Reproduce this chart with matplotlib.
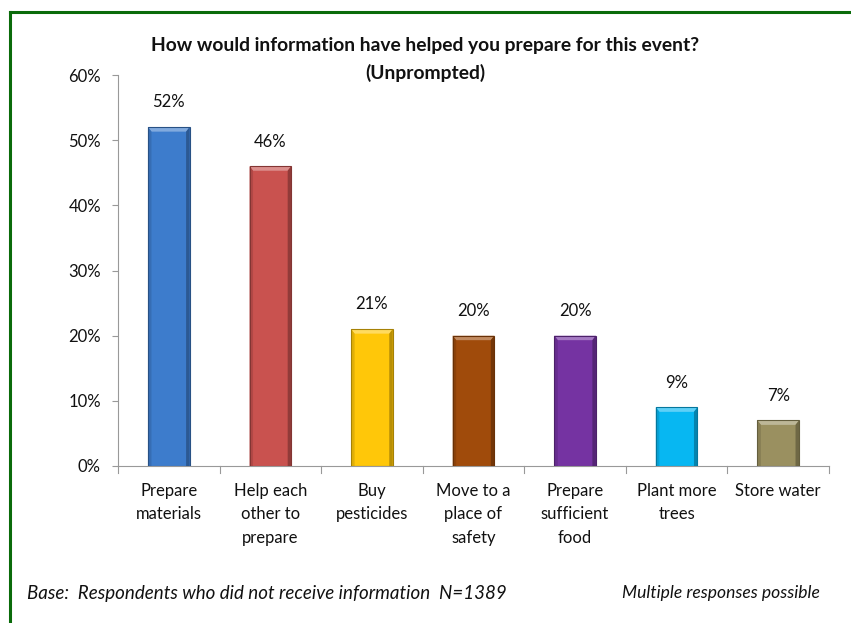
import matplotlib
matplotlib.use("Agg")
import matplotlib.pyplot as plt
from matplotlib.patches import Polygon
from matplotlib.lines import Line2D
import matplotlib.colors as mcolors
import numpy as np

categories = ["Prepare\nmaterials", "Help each\nother to\nprepare", "Buy\npesticides",
              "Move to a\nplace of\nsafety", "Prepare\nsufficient\nfood", "Plant more\ntrees",
              "Store water"]
values = [52, 46, 21, 20, 20, 9, 7]
bar_colors = ["#3d7ccc", "#c9524f", "#ffc709", "#a04b0b", "#7533a2", "#07b7f2", "#9a9060"]
y_ticks = [0, 10, 20, 30, 40, 50, 60]

FONT = "Lato"
W, H = 851, 623
fig = plt.figure(figsize=(W / 100, H / 100), dpi=100)
fig.patch.set_facecolor("white")

ax = fig.add_axes([118 / W, 1 - 466 / H, (829 - 118) / W, (466 - 75) / H])
x = np.arange(len(values))
bar_w = 0.41
bars = ax.bar(x, values, width=bar_w, color=bar_colors, zorder=2, linewidth=0)

ax.set_xlim(-0.5, len(values) - 0.5)
ax.set_ylim(0, 60)

# pixel -> data scale factors
px_x = (len(values)) / (829 - 118)
px_y = 60 / (466 - 75)


def shade(c, f):
    r, g, b = mcolors.to_rgb(c)
    if f >= 0:
        return (r + (1 - r) * f, g + (1 - g) * f, b + (1 - b) * f)
    return (r * (1 + f), g * (1 + f), b * (1 + f))


# bevelled look on each bar
for rect, c in zip(bars, bar_colors):
    x0 = rect.get_x()
    x1 = x0 + rect.get_width()
    top = rect.get_height()
    dx = 3.5 * px_x
    dy = 4.5 * px_y
    # top highlight
    ax.add_patch(Polygon([(x0, top), (x1, top), (x1 - dx, top - dy), (x0 + dx, top - dy)],
                         closed=True, facecolor=shade(c, 0.35), edgecolor="none", zorder=3))
    # left and right darker sides
    ax.add_patch(Polygon([(x0, 0), (x0, top), (x0 + dx, top - dy), (x0 + dx, 0)],
                         closed=True, facecolor=shade(c, -0.12), edgecolor="none", zorder=3))
    ax.add_patch(Polygon([(x1, 0), (x1, top), (x1 - dx, top - dy), (x1 - dx, 0)],
                         closed=True, facecolor=shade(c, -0.28), edgecolor="none", zorder=3))
    # outline
    ax.add_patch(plt.Rectangle((x0, 0), x1 - x0, top, facecolor="none",
                               edgecolor=shade(c, -0.35), linewidth=0.8, zorder=4))
    ax.annotate(f"{top:.0f}%", (rect.get_x() + rect.get_width() / 2, top),
                xytext=(0, 12), textcoords="offset points", ha="center", va="bottom",
                fontsize=12, family=FONT, color="#111111")

ax.set_yticks(y_ticks)
ax.set_yticklabels([f"{t}%" for t in y_ticks], fontsize=12, family=FONT, color="#111111")
ax.set_xticks(x)
ax.set_xticklabels(categories, fontsize=12, family=FONT, color="#111111", linespacing=1.6)
ax.tick_params(axis="x", length=0, pad=12)
ax.tick_params(axis="y", length=4.3, width=0.8, color="#999999", pad=8)

# category boundary ticks along the x axis
for b in np.arange(-0.5, len(values), 1.0):
    ax.plot([b, b], [0, -1.0], color="#999999", lw=0.8, clip_on=False, zorder=1)

for s in ["top", "right"]:
    ax.spines[s].set_visible(False)
for s in ["left", "bottom"]:
    ax.spines[s].set_color("#999999")
    ax.spines[s].set_linewidth(0.8)

fig.text(425 / W, 1 - 45 / H, "How would information have helped you prepare for this event?",
         ha="center", va="center", fontsize=13.9, fontweight="bold", family=FONT, color="#111111")
fig.text(425 / W, 1 - 73 / H, "(Unprompted)",
         ha="center", va="center", fontsize=13.9, fontweight="bold", family=FONT, color="#111111")

fig.text(27 / W, 1 - 593 / H, "Base:  Respondents who did not receive information  N=1389",
         ha="left", va="center", fontsize=13.5, style="italic", family=FONT, color="#111111")
fig.text(820 / W, 1 - 593 / H, "Multiple responses possible",
         ha="right", va="center", fontsize=12.6, style="italic", family=FONT, color="#111111")

# green frame on top and left
green = "#0a6b0a"
fig.add_artist(Line2D([10 / W, 10 / W], [0, 1 - 12 / H], color=green, lw=2.2,
                      transform=fig.transFigure))
fig.add_artist(Line2D([10 / W, 1], [1 - 12 / H, 1 - 12 / H], color=green, lw=2.2,
                      transform=fig.transFigure))

fig.savefig("out.png", dpi=100, facecolor="white")
